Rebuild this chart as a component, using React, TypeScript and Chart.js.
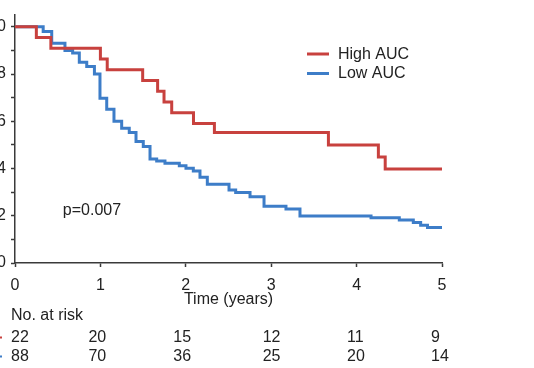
import React, { useEffect, useRef } from 'react';
import { Chart, registerables } from 'chart.js';

Chart.register(...registerables);

// ---------- data ----------
const timeTicks = [0, 1, 2, 3, 4, 5];
const seriesNames = ['High AUC', 'Low AUC'];

const highTimes = [0, 0.25, 0.42, 1.0, 1.08, 1.495, 1.67, 1.745, 1.835, 2.09, 2.335, 3.67, 4.255, 4.335, 5.0];
const highSurv = [1.0, 0.955, 0.909, 0.864, 0.818, 0.773, 0.727, 0.682, 0.636, 0.591, 0.552, 0.5, 0.449, 0.398, 0.398];

const lowTimes = [0, 0.33, 0.43, 0.585, 0.675, 0.753, 0.84, 0.93, 0.995, 1.074, 1.159, 1.249, 1.338, 1.417, 1.502, 1.581, 1.659, 1.756, 1.924, 2.002, 2.088, 2.166, 2.252, 2.506, 2.584, 2.752, 2.916, 3.173, 3.337, 4.169, 4.5, 4.664, 4.75, 4.83, 5.0];
const lowSurv = [1.0, 0.98, 0.93, 0.9, 0.889, 0.85, 0.832, 0.8, 0.698, 0.651, 0.6, 0.571, 0.552, 0.514, 0.493, 0.44, 0.432, 0.422, 0.412, 0.401, 0.39, 0.363, 0.333, 0.309, 0.298, 0.281, 0.24, 0.229, 0.199, 0.192, 0.182, 0.171, 0.16, 0.15, 0.15];

const highAtRisk = [22, 20, 15, 12, 11, 9];
const lowAtRisk = [88, 70, 36, 25, 20, 14];

const pValueText = 'p=0.007';
const xTitle = 'Time (years)';
const riskTitle = 'No. at risk';

// ---------- style ----------
const W = 534;
const H = 368;
const FONT_FAMILY = '"Liberation Sans", Arial, Helvetica, sans-serif';
const FONT = `16px ${FONT_FAMILY}`;
const TEXT = '#222222';
const AXIS = '#3a3a3a';
const RED = '#C8413E';
const BLUE = '#3D7DC8';
const colors = [RED, BLUE];
const RISK_NUDGE = [-4, -12, -12.5, -8.5, -9.5, -11];

const overlay = {
  id: 'overlay',
  afterDraw(chart: any) {
    const { ctx } = chart;
    const x = chart.scales.x;
    const y = chart.scales.y;
    ctx.save();
    ctx.font = FONT;
    ctx.fillStyle = TEXT;
    ctx.textBaseline = 'middle';
    ctx.textAlign = 'left';

    // p-value
    ctx.fillText(pValueText, x.getPixelForValue(0.56), y.getPixelForValue(0.222));

    // legend
    const legendY = [54, 73.5];
    seriesNames.forEach((name, i) => {
      ctx.strokeStyle = colors[i];
      ctx.lineWidth = 3;
      ctx.beginPath();
      ctx.moveTo(307, legendY[i]);
      ctx.lineTo(329, legendY[i]);
      ctx.stroke();
      ctx.fillStyle = TEXT;
      ctx.fillText(name, 338, legendY[i] + 0.5);
    });

    // at-risk table
    ctx.fillText(riskTitle, 11, 315.5);
    const rows = [highAtRisk, lowAtRisk];
    const rowY = [337.5, 356.5];
    rows.forEach((row, r) => {
      ctx.strokeStyle = colors[r];
      ctx.lineWidth = 2;
      ctx.beginPath();
      ctx.moveTo(-6, rowY[r]);
      ctx.lineTo(2, rowY[r]);
      ctx.stroke();
      ctx.fillStyle = TEXT;
      row.forEach((v, i) => {
        ctx.fillText(String(v), x.getPixelForValue(timeTicks[i]) + RISK_NUDGE[i], rowY[r]);
      });
    });
    ctx.restore();
  },
};

export default function App() {
  const ref = useRef<HTMLCanvasElement | null>(null);

  useEffect(() => {
    if (!ref.current) return;
    const toPts = (t: number[], s: number[]) => t.map((v, i) => ({ x: v, y: s[i] }));
    const chart = new Chart(ref.current, {
      type: 'line',
      data: {
        datasets: [
          {
            label: seriesNames[0],
            data: toPts(highTimes, highSurv),
            borderColor: RED,
            backgroundColor: RED,
            borderWidth: 3,
            pointRadius: 0,
            stepped: true,
            fill: false,
          },
          {
            label: seriesNames[1],
            data: toPts(lowTimes, lowSurv),
            borderColor: BLUE,
            backgroundColor: BLUE,
            borderWidth: 3,
            pointRadius: 0,
            stepped: true,
            fill: false,
          },
        ],
      },
      options: {
        animation: false,
        responsive: false,
        maintainAspectRatio: false,
        layout: { padding: { left: 0, right: W - 442, top: 15, bottom: 0 } },
        plugins: {
          legend: { display: false },
          tooltip: { enabled: false },
          title: { display: false },
        },
        scales: {
          x: {
            type: 'linear',
            min: 0,
            max: 5,
            afterFit: (s: any) => {
              s.height = H - 263;
            },
            border: { display: true, color: AXIS, width: 1.5 },
            grid: {
              drawOnChartArea: false,
              drawTicks: true,
              tickLength: 4,
              tickColor: AXIS,
              tickWidth: 1.5,
            },
            ticks: {
              stepSize: 1,
              autoSkip: false,
              maxRotation: 0,
              padding: 9,
              color: TEXT,
              font: { family: FONT_FAMILY, size: 16 },
              callback: (v: any) => String(v),
            },
            title: {
              display: true,
              text: xTitle,
              color: TEXT,
              font: { family: FONT_FAMILY, size: 16 },
              padding: { top: 0, bottom: 59 },
            },
          },
          y: {
            type: 'linear',
            min: 0,
            max: 1.05,
            afterFit: (s: any) => {
              s.width = 15;
            },
            border: { display: true, color: AXIS, width: 1.5 },
            grid: {
              drawOnChartArea: false,
              drawTicks: true,
              tickLength: 4,
              tickColor: AXIS,
              tickWidth: 1.5,
            },
            ticks: {
              stepSize: 0.1,
              includeBounds: false,
              autoSkip: false,
              padding: 5,
              color: TEXT,
              font: { family: FONT_FAMILY, size: 16 },
              callback: (v: any) => {
                const k = Math.round(Number(v) * 10);
                return k % 2 === 0 ? (k / 10).toFixed(1) : '';
              },
            },
          },
        },
      },
      plugins: [overlay],
    });
    return () => chart.destroy();
  }, []);

  return (
    <div style={{ position: 'fixed', left: 0, top: 0, width: W, height: H, background: '#fff' }}>
      <canvas ref={ref} width={W} height={H} style={{ display: 'block', width: W, height: H }} />
    </div>
  );
}
